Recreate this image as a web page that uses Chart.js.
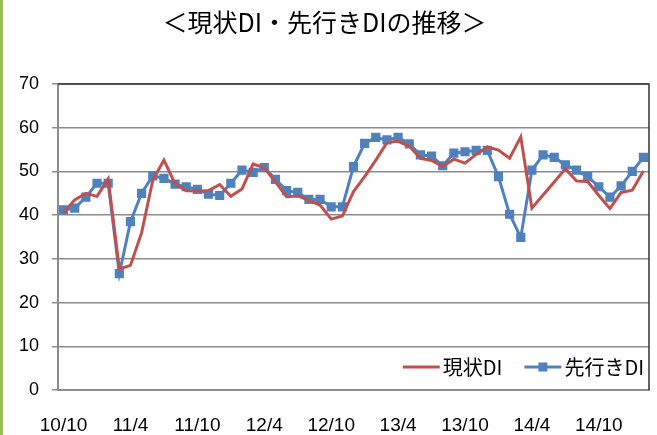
<!DOCTYPE html>
<html>
<head>
<meta charset="utf-8">
<script src="https://cdn.jsdelivr.net/npm/chart.js@4"></script>
<style>
  html, body { margin: 0; padding: 0; background: #fff; }
  #wrap { position: relative; width: 657px; height: 435px; }
  #bar { position: absolute; left: 0; top: 0; width: 3px; height: 435px; background: #9bbb59; }
  canvas { position: absolute; left: 0; top: 0; }
</style>
</head>
<body>
<div id="wrap">
  <canvas id="chart" width="657" height="435"></canvas>
  <div id="bar"></div>
</div>
<script>
// ===== Data =====
const months = [
  "10/10", "10/11", "10/12",
  "11/1", "11/2", "11/3", "11/4", "11/5", "11/6", "11/7", "11/8", "11/9", "11/10", "11/11", "11/12",
  "12/1", "12/2", "12/3", "12/4", "12/5", "12/6", "12/7", "12/8", "12/9", "12/10", "12/11", "12/12",
  "13/1", "13/2", "13/3", "13/4", "13/5", "13/6", "13/7", "13/8", "13/9", "13/10", "13/11", "13/12",
  "14/1", "14/2", "14/3", "14/4", "14/5", "14/6", "14/7", "14/8", "14/9", "14/10", "14/11", "14/12",
  "15/1", "15/2"
];

// 現状DI
const currentDI = [
  40.6, 43.5, 45.0,
  44.3, 48.3, 27.7, 28.5, 36.0, 48.0, 52.6, 47.2, 45.6, 45.5, 45.6, 47.0,
  44.3, 46.0, 51.7, 50.8, 47.6, 44.2, 44.4, 43.4, 42.3, 39.1, 39.8, 45.4,
  48.8, 52.6, 56.6, 56.9, 55.8, 53.0, 52.5, 51.1, 52.8, 51.9, 53.9, 55.6,
  54.9, 53.0, 57.9, 41.6, 44.6, 47.6, 50.6, 47.8, 47.7, 44.5, 41.5, 45.2,
  45.7, 50.1
];

// 先行きDI
const futureDI = [
  41.2, 41.6, 44.1,
  47.3, 47.3, 26.6, 38.5, 45.0, 49.0, 48.4, 47.1, 46.5, 45.9, 44.8, 44.5,
  47.3, 50.3, 49.8, 50.9, 48.2, 45.6, 45.2, 43.6, 43.6, 41.9, 41.9, 51.1,
  56.4, 57.8, 57.2, 57.8, 56.3, 53.8, 53.5, 51.3, 54.2, 54.5, 54.8, 54.8,
  48.8, 40.2, 34.9, 50.3, 53.8, 53.2, 51.5, 50.3, 48.8, 46.5, 44.1, 46.7,
  50.0, 53.2
];

const yTicks = [0, 10, 20, 30, 40, 50, 60, 70];
const labelEvery = 6;

const RED = "#c0504d";
const BLUE = "#4f81bd";
const GRID = "#8c8c8c";
const JP_FONT = "'Noto Sans CJK JP', 'Noto Sans', sans-serif";
const NUM_FONT = "'Liberation Sans', Arial, sans-serif";

// ===== Plugins =====
// dark border on top and right of the plot area
const plotBorder = {
  id: "plotBorder",
  beforeDatasetsDraw(chart) {
    const { ctx, chartArea: a } = chart;
    ctx.save();
    ctx.strokeStyle = "#333";
    ctx.lineWidth = 1.5;
    ctx.beginPath();
    ctx.moveTo(a.left, a.top);
    ctx.lineTo(a.right, a.top);
    ctx.lineTo(a.right, a.bottom);
    ctx.stroke();
    ctx.restore();
  }
};

// legend inside the plot, bottom right
const insideLegend = {
  id: "insideLegend",
  afterDraw(chart) {
    const { ctx, chartArea: a } = chart;
    const y = a.bottom - 23;
    ctx.save();
    ctx.font = "20px " + JP_FONT;
    ctx.textBaseline = "middle";
    ctx.fillStyle = "#000";
    let x = a.right - 5;
    const items = chart.data.datasets.slice().reverse();
    items.forEach(ds => {
      const w = ctx.measureText(ds.label).width;
      x -= w;
      ctx.fillText(ds.label, x, y);
      x -= 40;
      ctx.strokeStyle = ds.borderColor;
      ctx.lineWidth = 3;
      ctx.beginPath();
      ctx.moveTo(x, y);
      ctx.lineTo(x + 37, y);
      ctx.stroke();
      if (ds.pointRadius > 0) {
        ctx.fillStyle = ds.borderColor;
        ctx.fillRect(x + 18.5 - 4.5, y - 4.5, 9, 9);
        ctx.fillStyle = "#000";
      }
      x -= 22;
    });
    ctx.restore();
  }
};

// ===== Chart =====
new Chart(document.getElementById("chart"), {
  type: "line",
  data: {
    labels: months,
    datasets: [
      {
        label: "現状DI",
        data: currentDI,
        borderColor: RED,
        backgroundColor: RED,
        borderWidth: 3,
        pointRadius: 0,
        tension: 0
      },
      {
        label: "先行きDI",
        data: futureDI,
        borderColor: BLUE,
        backgroundColor: BLUE,
        borderWidth: 3,
        pointStyle: "rect",
        pointRadius: 6.5,
        pointBorderWidth: 0,
        tension: 0
      }
    ]
  },
  options: {
    responsive: false,
    animation: false,
    devicePixelRatio: 1,
    layout: { padding: { left: 0, right: 8, top: 0, bottom: 0 } },
    plugins: {
      legend: { display: false },
      tooltip: { enabled: false },
      title: {
        display: true,
        text: "＜現状DI・先行きDIの推移＞",
        color: "#000",
        font: { family: JP_FONT, size: 25, weight: "normal" },
        padding: { top: 7, bottom: 47 }
      }
    },
    scales: {
      x: {
        offset: true,
        grid: { display: false, drawTicks: false },
        border: { display: true, color: GRID, width: 2 },
        ticks: {
          autoSkip: false,
          maxRotation: 0,
          padding: 24,
          color: "#000",
          font: { family: NUM_FONT, size: 19 },
          callback: (v, i) => (i % labelEvery === 0 ? months[i] : "")
        },
        afterFit: s => {
          s.height = 45;
          s.paddingLeft = 0;
          s.paddingRight = 0;
        }
      },
      y: {
        min: 0,
        max: 70,
        afterBuildTicks: s => { s.ticks = yTicks.map(v => ({ value: v })); },
        grid: {
          color: GRID,
          lineWidth: 1.5,
          tickLength: 6,
          drawTicks: true
        },
        border: { display: true, color: GRID, width: 2 },
        ticks: {
          padding: 13,
          color: "#000",
          font: { family: NUM_FONT, size: 18 }
        },
        afterFit: s => { s.width = 58; }
      }
    }
  },
  plugins: [plotBorder, insideLegend]
});
</script>
</body>
</html>
